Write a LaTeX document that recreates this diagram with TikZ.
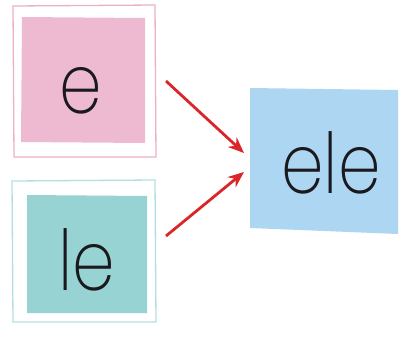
\documentclass[tikz,border=0pt]{standalone}
\usepackage{fontspec}
\usepackage{graphicx}
\IfFontExistsTF{Poppins ExtraLight}{\newfontfamily\lfont{Poppins ExtraLight}}{%
  \IfFontExistsTF{Poppins Light}{\newfontfamily\lfont{Poppins Light}}{\newfontfamily\lfont{Poppins}}}
\definecolor{pinkfill}{RGB}{238,186,210}
\definecolor{pinkline}{RGB}{236,176,200}
\definecolor{tealfill}{RGB}{152,211,212}
\definecolor{tealline}{RGB}{176,224,222}
\definecolor{bluefill}{RGB}{172,214,242}
\definecolor{arrowred}{RGB}{218,38,40}
\definecolor{inkc}{RGB}{25,25,30}
\usetikzlibrary{arrows.meta}
\newcommand{\tallword}[1]{\scalebox{1.1}[1.35]{\lfont\fontsize{62}{62}\selectfont #1}}
\tikzset{
  frame/.style={line width=1.3pt},
  word/.style={text=inkc, inner sep=0pt},
  link/.style={draw=arrowred, line width=2.8pt, -{Stealth[length=16pt,width=13pt]}}
}
\begin{document}
\begin{tikzpicture}[x=1pt,y=-1pt]
\useasboundingbox (0,0) rectangle (399,338);
% top pink card
\draw[frame, draw=pinkline] (13,6) -- (155,5) -- (156,157) -- (14,157) -- cycle;
\fill[pinkfill] (22,17) -- (145,18) -- (145,143) -- (21,142) -- cycle;
\node[word, anchor=base] (e) at (81,113) {\tallword{e}};
% bottom teal card
\draw[frame, draw=tealline] (12,181) -- (155,180) -- (156,322) -- (13,322) -- cycle;
\fill[tealfill] (27,195) -- (147,196) -- (147,313) -- (27,313) -- cycle;
\node[word, anchor=base] (le) at (87,290) {\tallword{le}};
% blue card
\fill[bluefill] (250,88) -- (398,90) -- (398,234) -- (250,228) -- cycle;
\node[word, anchor=base] (ele) at (331,193) {\tallword{ele}};
% arrows
\coordinate (t1) at (166,81);
\coordinate (t2) at (244,153);
\coordinate (b1) at (166,236);
\coordinate (b2) at (244,172);
\draw[link] (t1) -- (t2);
\draw[link] (b1) -- (b2);
\end{tikzpicture}
\end{document}
